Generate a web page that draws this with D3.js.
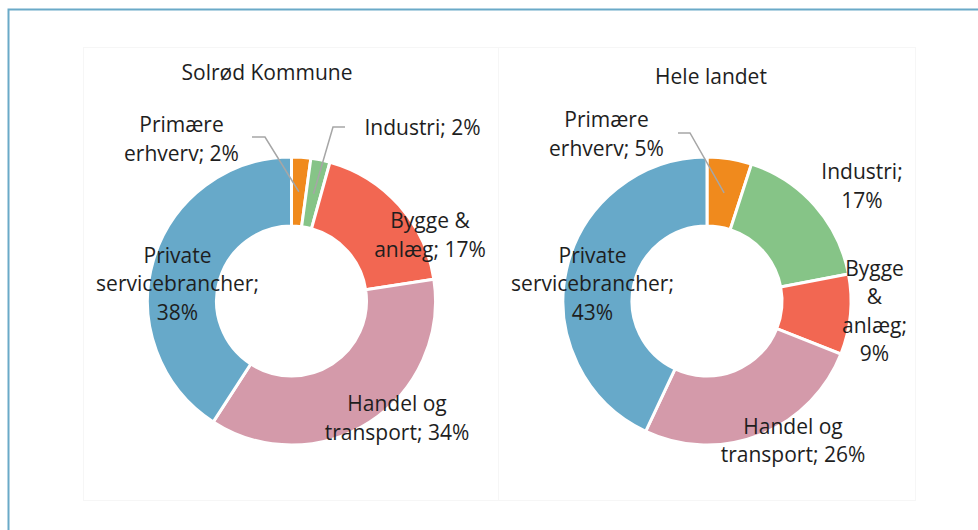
<!doctype html>
<html lang="da">
<head>
  <meta charset="utf-8">
  <title>Beskæftigelse fordelt på brancher</title>
  <style>
body {
  margin: 0;
  background: #fff;
}
svg {
  display: block;
  font-family: "Open Sans", sans-serif;
}
.label, .title {
  font-size: 21px;
  fill: #1e1e1e;
}
.leader {
  fill: none;
  stroke: #a6a6a6;
  stroke-width: 1.5;
}
.slice {
  stroke: #fff;
  stroke-width: 3;
}
  </style>
</head>
<body>
  <script src="https://cdnjs.cloudflare.com/ajax/libs/d3/7.8.5/d3.min.js"></script>
  <script>
// brancher, med uret fra kl. 12
var categories = ["Primære erhverv", "Industri", "Bygge & anlæg", "Handel og transport", "Private servicebrancher"];
var solrod = [2, 2, 17, 34, 38];
var heleLandet = [5, 17, 9, 26, 43];
var titles = ["Solrød Kommune", "Hele landet"];

var colors = ["#f08a1d", "#86c487", "#f26752", "#d49aaa", "#67a9c9"];

var width = 978,
    height = 530,
    outer = 144,
    inner = 75,
    lineH = 28.5;

// placering af de to diagrammer og deres etiketter (forskydning fra centrum)
var charts = [
  {
    values: solrod, title: titles[0], cx: 291.5, cy: 301,
    box: [83, 47, 417, 453], titleX: -24.5, titleY: -228,
    labels: [
      {dx: -110, dy: -162, wrap: 125, leader: [[-39.5, -164], [-26.5, -164]]},
      {dx: 131, dy: -173, wrap: 200, leader: [[53.5, -174], [41.5, -174]]},
      {dx: 138.5, dy: -66, wrap: 125},
      {dx: 105.5, dy: 117, wrap: 160},
      {dx: -114, dy: -17, wrap: 175}
    ]
  },
  {
    values: heleLandet, title: titles[1], cx: 707, cy: 301,
    box: [498, 47, 417, 453], titleX: 4, titleY: -224,
    labels: [
      {dx: -100.5, dy: -167, wrap: 125, leader: [[-29, -168], [-17, -168]]},
      {dx: 155, dy: -115, wrap: 95},
      {dx: 167.5, dy: 10, wrap: 70},
      {dx: 86, dy: 139.5, wrap: 160},
      {dx: -114.5, dy: -17, wrap: 175}
    ]
  }
];

var svg = d3.select("body").append("svg")
    .attr("width", width)
    .attr("height", height);

// ramme
svg.append("path")
    .attr("d", "M8.5," + height + "V9.5H" + width)
    .attr("fill", "none")
    .attr("stroke", "#6aaac8")
    .attr("stroke-width", 2);

var pie = d3.pie().sort(null).value(function(d) { return d; });
var arc = d3.arc().innerRadius(inner).outerRadius(outer);

charts.forEach(function(c) {
  //svag plotramme
  svg.append("rect")
      .attr("x", c.box[0] + 0.5)
      .attr("y", c.box[1] + 0.5)
      .attr("width", c.box[2])
      .attr("height", c.box[3])
      .attr("fill", "#fff")
      .attr("stroke", "#f6f6f6");

  var g = svg.append("g")
      .attr("transform", "translate(" + c.cx + "," + c.cy + ")");

  g.append("text")
      .attr("class", "title")
      .attr("x", c.titleX)
      .attr("y", c.titleY)
      .attr("dy", "0.35em")
      .attr("text-anchor", "middle")
      .text(c.title);

  var arcs = pie(c.values);

  g.selectAll(".slice")
      .data(arcs)
      .enter().append("path")
      .attr("class", "slice")
      .attr("d", arc)
      .attr("fill", function(d, i) { return colors[i]; });

  arcs.forEach(function(d, i) {
    var lab = c.labels[i];
    if (lab.leader) {
      var pts = lab.leader.concat([arc.centroid(d)]);
      g.append("path")
          .attr("class", "leader")
          .attr("d", d3.line()(pts));
    }
    var words = (categories[i] + "; " + c.values[i] + "%").split(" ");
    var t = g.append("text")
        .attr("class", "label")
        .attr("text-anchor", "middle");
    // ombryd ord efter bredde
    var lines = [], cur = [];
    words.forEach(function(w) {
      var test = cur.concat([w]).join(" ");
      t.text(test);
      if (cur.length && t.node().getComputedTextLength() > lab.wrap) {
        lines.push(cur.join(" "));
        cur = [w];
      } else {
        cur.push(w);
      }
    });
    lines.push(cur.join(" "));
    t.text(null);
    lines.forEach(function(l, k) {
      t.append("tspan")
          .attr("x", lab.dx)
          .attr("y", lab.dy + (k - (lines.length - 1) / 2) * lineH)
          .attr("dy", "0.35em")
          .text(l);
    });
  });
});
  </script>
</body>
</html>
